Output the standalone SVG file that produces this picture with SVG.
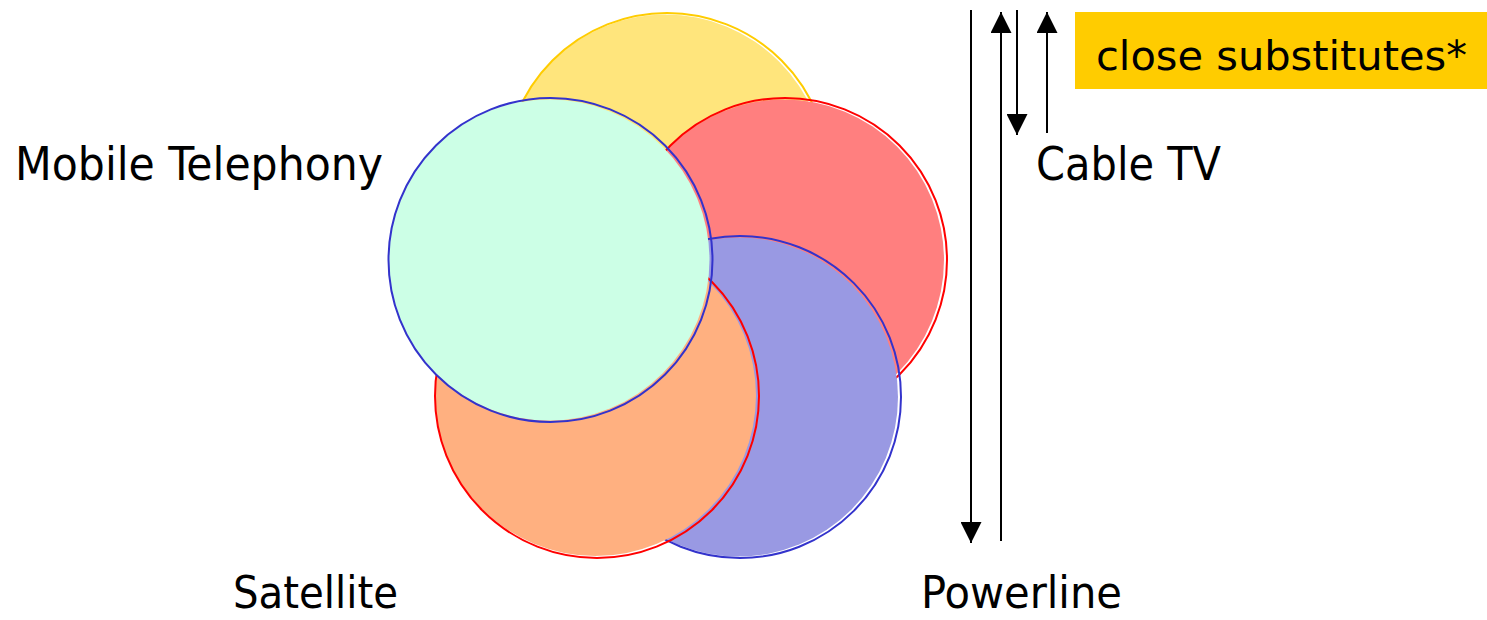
<svg xmlns="http://www.w3.org/2000/svg" width="1487" height="620" viewBox="0 0 1487 620">
  <style>
    .label { font-family: "DejaVu Sans Condensed", "DejaVu Sans", sans-serif; font-stretch: condensed; font-size: 47px; fill: #000; }
    .low { font-size: 44px; }
    .boxtext { font-family: "DejaVu Sans Condensed", "DejaVu Sans", sans-serif; font-stretch: condensed; font-size: 41px; fill: #000; }
    .edge { fill: none; stroke-width: 2; }
    .conn { stroke: #000; stroke-width: 2; fill: none; }
  </style>
  <defs>
    <marker id="arrow" viewBox="0 0 21 21" refX="21" refY="10.5" markerWidth="21" markerHeight="21" markerUnits="userSpaceOnUse" orient="auto">
      <path d="M0,0 L21,10.5 L0,21 Z" fill="#000"/>
    </marker>
  </defs>
  <rect width="1487" height="620" fill="#fff"/>

  <!-- overlapping service circles -->
  <g id="circle-yellow">
    <circle cx="665.5" cy="175" r="160.5" fill="#FFE57C"/>
    <circle cx="667" cy="175" r="162" class="edge" stroke="#FFCC00"/>
  </g>
  <g id="circle-red">
    <circle cx="783.5" cy="260" r="160.5" fill="#FF7F7F"/>
    <circle cx="785" cy="260" r="162" class="edge" stroke="#FF0000"/>
  </g>
  <g id="circle-blue">
    <circle cx="738.5" cy="397" r="159.5" fill="#9999E3"/>
    <circle cx="740" cy="397" r="161" class="edge" stroke="#3333CC"/>
  </g>
  <g id="circle-orange">
    <circle cx="595.5" cy="395.5" r="160.5" fill="#FFB080"/>
    <circle cx="597" cy="396" r="162" class="edge" stroke="#FF0000"/>
  </g>
  <g id="circle-green">
    <circle cx="549" cy="260" r="160.5" fill="#CCFFE6"/>
    <circle cx="550.5" cy="260" r="162" class="edge" stroke="#3333CC"/>
  </g>

  <!-- labels -->
  <g id="label-mobile"><text class="label" x="15" y="180" textLength="368" lengthAdjust="spacingAndGlyphs">Mobile Telephony</text></g>
  <g id="label-cable"><text class="label" x="1036" y="180" textLength="185" lengthAdjust="spacingAndGlyphs">Cable TV</text></g>
  <g id="label-satellite"><text class="label low" x="233" y="608" textLength="165" lengthAdjust="spacingAndGlyphs">Satellite</text></g>
  <g id="label-powerline"><text class="label low" x="921" y="608" textLength="201" lengthAdjust="spacingAndGlyphs">Powerline</text></g>

  <g id="substitutes-box">
    <rect x="1075" y="12" width="412" height="77" fill="#FFCC00"/>
    <text class="boxtext" x="1096" y="70" textLength="371" lengthAdjust="spacingAndGlyphs">close substitutes*</text>
  </g>

  <!-- connectors -->
  <g id="connectors">
    <line class="conn" x1="971" y1="10" x2="971" y2="543" marker-end="url(#arrow)"/>
    <line class="conn" x1="1001" y1="541" x2="1001" y2="12" marker-end="url(#arrow)"/>
    <line class="conn" x1="1017" y1="10" x2="1017" y2="135" marker-end="url(#arrow)"/>
    <line class="conn" x1="1047" y1="133" x2="1047" y2="12" marker-end="url(#arrow)"/>
  </g>
</svg>
